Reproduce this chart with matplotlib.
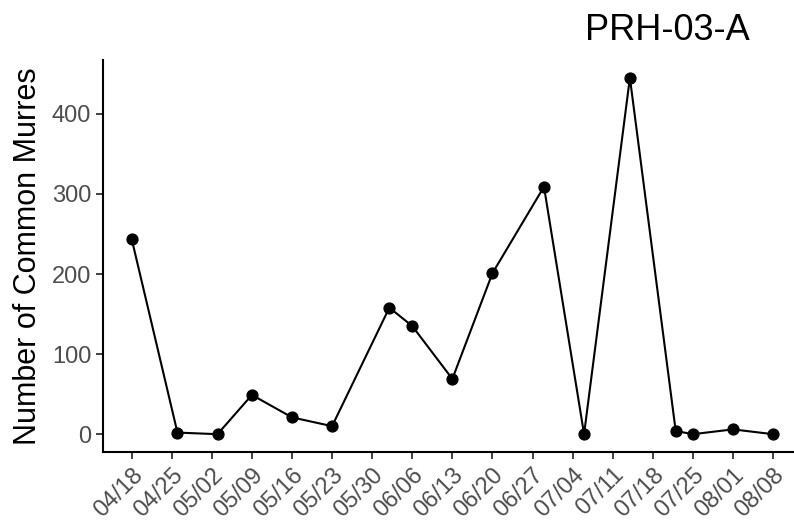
import numpy as np
import matplotlib
matplotlib.use("Agg")
import matplotlib.pyplot as plt
import matplotlib.dates as mdates

# survey dates and counts
dates = ['2000-04-18', '2000-04-26', '2000-05-03', '2000-05-09', '2000-05-16',
         '2000-05-23', '2000-06-02', '2000-06-06', '2000-06-13', '2000-06-20',
         '2000-06-29', '2000-07-06', '2000-07-14', '2000-07-22', '2000-07-25',
         '2000-08-01', '2000-08-08']
counts = [244, 2, 0, 49, 21, 10, 158, 135, 69, 201, 309, 0, 445, 4, 0, 6, 0]
tick_dates = np.arange(np.datetime64('2000-04-18'), np.datetime64('2000-08-09'),
                       np.timedelta64(7, 'D'))
title = 'PRH-03-A'

plt.rcParams['font.family'] = ['Liberation Sans', 'DejaVu Sans']

x = np.array(dates, dtype='datetime64[D]')
fig = plt.figure(figsize=(7.94, 5.23), dpi=100)
ax = fig.add_axes([103 / 794, 1 - 452 / 523, (801.7 - 103) / 794, (452 - 60) / 523])

ax.plot(x, counts, color='black', lw=1.5, marker='o', ms=7.8, zorder=3)

span = x.max() - x.min()
pad = span * 0.05
ax.set_xlim(mdates.date2num(x.min()) - pad.astype(float), mdates.date2num(x.max()) + pad.astype(float))
ax.set_ylim(-22.25, 467.25)

ax.set_xticks(tick_dates)
ax.xaxis.set_major_formatter(mdates.DateFormatter('%m/%d'))
ax.set_yticks([0, 100, 200, 300, 400])
ax.tick_params(axis='both', labelsize=17, labelcolor='#4D4D4D', color='#333333',
               length=5, width=1.3)
plt.setp(ax.get_xticklabels(), rotation=45, ha='right', rotation_mode='anchor')

for s in ['top', 'right']:
    ax.spines[s].set_visible(False)
for s in ['left', 'bottom']:
    ax.spines[s].set_linewidth(1.5)

ax.set_ylabel('Number of Common Murres', fontsize=22, labelpad=6)
fig.text(750 / 794, 1 - 30 / 523, title, fontsize=26, ha='right', va='center')

fig.savefig('out.png', dpi=100)
